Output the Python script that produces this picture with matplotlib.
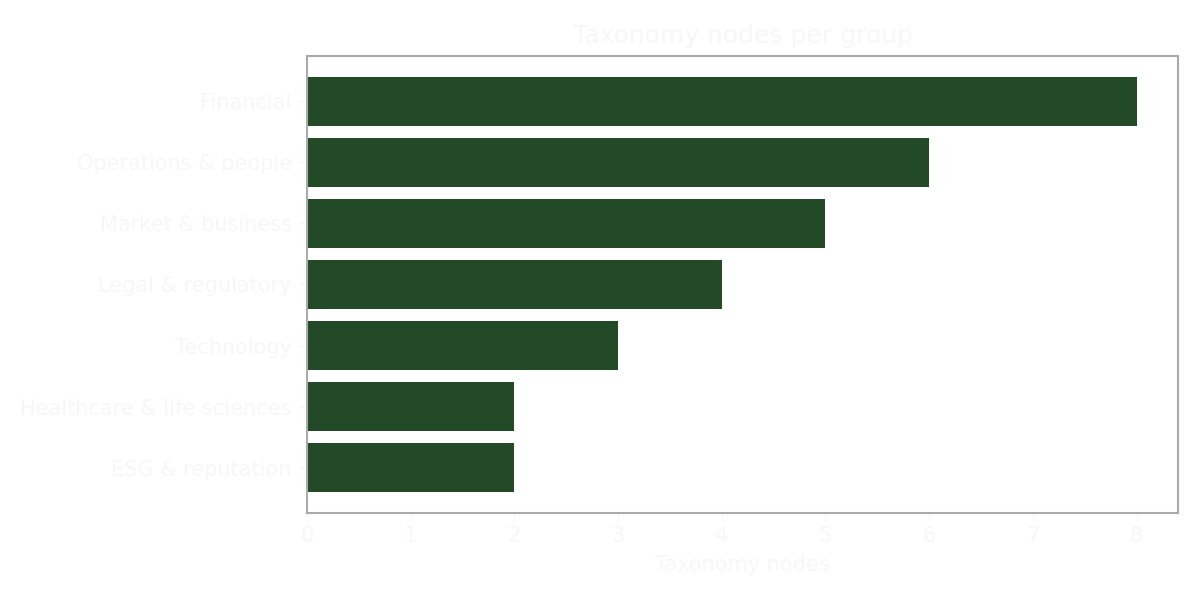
import matplotlib
matplotlib.use('Agg')
import matplotlib.pyplot as plt

CATEGORIES = ['Financial', 'Operations & people', 'Market & business',
              'Legal & regulatory', 'Technology', 'Healthcare & life sciences',
              'ESG & reputation']
NODES = [8, 6, 5, 4, 3, 2, 2]

TEXT_C  = '#f7f7f7'
BAR_C   = '#234a27'
SPINE_C = '#aaaaaa'

fig = plt.figure(figsize=(12, 6), dpi=100)
ax = fig.add_axes([307/1200, 1 - 513/600, (1178-307)/1200, (513-56)/600])

ax.barh(CATEGORIES[::-1], NODES[::-1], color=BAR_C, height=0.8)
ax.set_xlim(0, 8.4)
ax.set_title('Taxonomy nodes per group', fontsize=18, color=TEXT_C, pad=9)
ax.set_xlabel('Taxonomy nodes', fontsize=15, color=TEXT_C, labelpad=6)
ax.tick_params(axis='both', labelsize=15, colors=TEXT_C, length=6)
ax.tick_params(axis='x', pad=3.5)
ax.tick_params(axis='y', pad=5)
for s in ax.spines.values():
    s.set_color(SPINE_C)
    s.set_linewidth(1.5)

fig.savefig('out.png', dpi=100)
